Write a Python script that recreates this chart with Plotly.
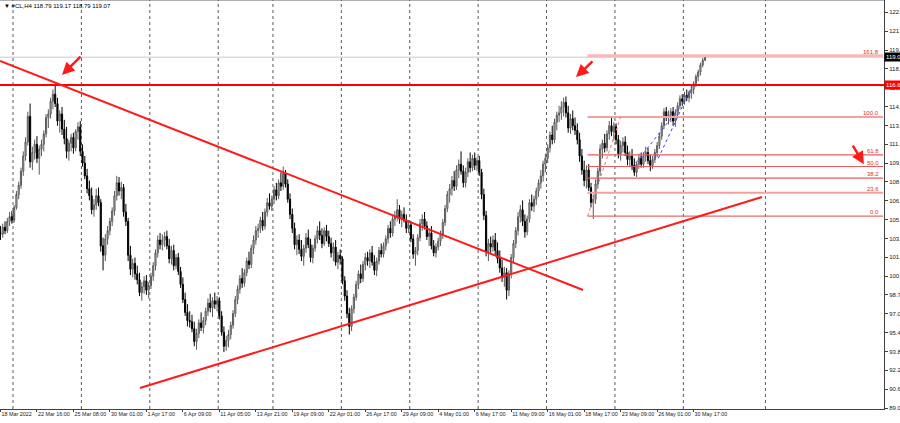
import plotly.graph_objects as go

# ---------------- data (H4 candles, 18 Mar 2022 .. 31 May 2022) ----------------
opens = [
    104.0,103.9,104.5,104.2,105.0,105.4, 105.1,106.2,107.3,108.1,109.3,110.6,
    111.8,114.0,110.1,110.9,111.6,110.4, 111.2,111.6,112.5,113.9,114.2,115.3,
    115.9,115.1,113.6,114.2,112.9,112.1, 111.0,111.7,112.2,111.3,112.7,113.1,
    111.0,110.0,108.9,107.8,107.2,106.0, 106.4,107.2,106.6,102.9,102.1,103.5,
    104.2,105.0,105.9,107.2,108.3,107.6, 107.9,105.8,105.0,102.1,100.9,101.4,
    100.5,100.0,98.9,99.4,99.9,99.1, 99.5,100.3,101.2,102.3,103.4,103.0,
    103.4,103.7,102.9,101.8,102.5,101.2, 101.9,100.7,99.6,98.3,97.2,96.5,
    96.4,95.8,94.7,95.4,96.3,95.9, 96.5,97.3,98.0,97.6,98.2,97.9,
    98.2,96.9,95.5,94.3,94.8,95.3, 96.1,97.1,98.3,99.2,100.1,99.7,
    100.6,101.6,101.3,102.7,103.4,104.2, 104.4,105.1,104.6,105.8,106.6,106.3,
    106.9,107.7,107.2,108.3,108.0,109.1, 108.2,106.9,105.6,104.4,103.0,103.4,
    102.6,102.0,102.7,103.6,103.0,101.9, 102.7,103.5,104.2,103.8,103.1,104.2,
    103.7,103.1,102.3,102.8,101.5,102.1, 101.8,99.9,98.6,97.1,96.0,97.5,
    98.5,99.6,100.5,100.1,101.3,101.9, 101.6,102.3,101.5,100.8,101.6,102.5,
    102.2,102.9,103.5,104.4,104.0,105.2, 105.4,106.0,105.2,105.6,105.1,104.4,
    104.7,103.5,102.2,102.5,103.6,104.8, 105.2,104.6,103.7,104.0,102.9,102.3,
    102.8,103.3,103.9,104.9,106.1,107.3, 107.8,108.5,108.0,109.4,109.9,109.3,
    108.3,109.2,110.1,109.6,110.4,109.8, 110.2,109.2,107.3,105.5,102.4,103.1,
    102.8,103.4,102.5,101.8,101.0,100.2, 100.6,99.1,100.5,101.9,103.1,104.2,
    105.4,106.0,105.0,104.1,105.2,106.6, 106.3,106.9,107.6,108.3,108.9,109.9,
    110.4,111.3,112.4,112.0,113.5,114.1, 114.3,114.8,115.2,114.3,113.0,113.8,
    113.2,112.8,112.0,110.6,109.4,108.5, 109.4,107.9,106.6,106.9,108.2,109.3,
    111.2,111.7,111.3,112.5,113.2,112.7, 113.1,112.0,110.8,111.5,111.8,110.9,
    110.3,110.6,109.8,109.2,109.9,110.4, 109.9,110.6,110.9,110.2,109.8,110.3,
    110.9,111.5,112.3,113.2,114.4,113.9, 114.1,114.4,113.6,114.3,114.9,115.5,
    115.3,115.8,115.6,116.0,116.3,116.8, 117.4,117.8,118.4,118.79,
]
highs = [
    104.6,104.8,105.0,105.3,105.8,105.9, 106.4,107.6,108.4,109.6,111.0,112.2,
    114.4,115.1,111.4,112.0,112.3,111.5, 112.0,112.8,114.2,114.6,115.6,116.3,
    116.8,115.6,114.5,114.8,113.7,113.1, 112.0,112.5,112.6,112.9,113.5,113.6,
    111.6,110.6,109.5,108.5,107.9,106.9, 107.8,107.9,106.9,103.6,103.9,104.6,
    105.3,106.2,107.6,108.9,108.8,108.4, 108.2,106.5,105.3,102.9,101.8,101.9,
    101.2,100.6,99.8,100.3,100.4,99.8, 100.6,101.5,102.6,103.8,104.0,103.9,
    104.1,104.2,103.5,102.9,103.0,102.2, 102.3,101.1,100.2,98.9,97.9,97.3,
    97.0,96.4,95.8,96.6,97.2,96.8, 97.6,98.4,98.8,98.5,98.9,98.6,
    98.5,97.3,96.0,95.2,95.7,96.4, 97.4,98.6,99.5,100.4,101.0,100.9,
    101.9,102.4,103.0,103.8,104.6,104.8, 105.4,105.8,106.1,107.0,107.4,107.2,
    108.0,108.3,108.6,109.2,109.7,109.4, 108.6,107.4,106.1,104.9,103.8,103.9,
    103.4,103.0,104.0,104.3,103.5,103.0, 103.8,104.6,105.0,104.4,104.5,104.7,
    104.2,103.6,103.2,103.4,102.4,102.6, 102.0,100.3,99.1,97.6,97.8,98.8,
    99.9,100.8,101.3,101.6,102.3,102.4, 102.6,102.9,102.1,101.9,102.8,103.1,
    103.2,103.8,104.7,105.0,105.5,105.9, 106.9,106.4,105.9,106.2,105.6,105.1,
    105.0,103.9,102.8,103.9,105.2,105.6, 105.8,105.0,104.4,104.6,103.4,103.1,
    103.6,104.2,105.2,106.4,107.6,108.2, 108.9,109.3,109.8,110.3,111.0,109.8,
    109.6,110.4,110.9,110.7,110.9,110.5, 110.6,109.5,107.8,105.9,103.5,103.7,
    103.8,104.0,103.2,102.5,101.7,101.1, 101.0,100.8,102.2,103.4,104.5,105.8,
    106.4,106.8,105.6,105.5,106.9,107.3, 107.2,107.9,108.6,109.4,110.2,110.8,
    111.6,112.7,113.2,113.8,114.4,114.9, 115.3,115.6,115.7,114.9,114.2,114.5,
    113.9,113.4,112.6,111.2,110.2,109.8, 109.9,108.3,107.3,108.6,109.6,111.6,
    112.0,112.5,112.8,113.6,113.9,113.5, 113.4,112.4,111.9,112.2,112.3,111.5,
    111.0,111.2,110.4,110.1,110.8,110.9, 110.9,111.4,111.3,110.7,110.6,111.2,
    111.8,112.6,113.5,114.7,114.8,114.5, 114.7,114.8,114.6,115.2,115.8,115.9,
    116.1,116.3,116.2,116.6,117.0,117.6, 118.0,118.6,119.0,119.17,
]
lows = [
    103.4,103.6,103.9,104.0,104.6,104.8, 104.9,106.0,106.9,107.8,108.9,110.2,
    111.5,109.6,109.4,110.3,110.0,109.0, 110.6,111.0,112.2,113.0,113.8,114.6,
    114.8,113.2,112.6,112.4,111.6,110.4, 110.2,111.0,110.8,111.0,112.0,110.6,
    109.7,108.6,107.4,106.8,105.6,105.4, 106.0,106.3,102.4,100.8,101.6,103.0,
    103.8,104.6,105.5,106.8,107.2,106.9, 105.4,104.6,101.6,100.4,100.2,100.0,
    99.6,98.6,98.2,98.8,98.7,98.4, 99.2,99.9,100.8,101.9,102.6,102.5,
    102.8,102.6,101.4,101.3,100.8,100.9, 100.4,99.3,98.0,96.9,96.0,95.9,
    95.5,94.3,94.0,95.0,95.6,95.4, 96.1,96.9,97.2,96.8,97.5,97.3,
    96.6,95.2,93.8,93.9,94.2,94.9, 95.8,96.8,97.9,98.8,99.3,99.4,
    100.3,100.9,101.0,102.2,103.0,103.6, 104.0,104.2,104.3,105.4,106.0,105.9,
    106.5,106.8,106.9,107.6,107.7,107.9, 106.6,105.2,104.0,102.6,102.1,102.2,
    101.6,101.2,102.3,102.7,101.5,101.4, 102.4,103.1,103.4,102.7,102.9,103.3,
    102.8,101.9,101.6,101.2,100.9,101.3, 99.6,98.2,96.7,95.3,95.6,97.1,
    98.2,99.2,99.7,99.8,100.8,101.2, 101.0,101.2,100.4,100.3,101.3,101.9,
    101.9,102.5,103.1,103.6,103.7,104.6, 105.0,104.8,104.5,104.9,104.0,104.0,
    103.2,101.8,101.2,102.1,103.3,104.2, 104.3,103.4,102.9,102.6,102.0,101.9,
    102.5,102.9,103.5,104.6,105.8,106.6, 107.2,107.6,107.7,108.7,109.0,107.9,
    107.9,108.8,109.2,109.3,109.4,109.3, 108.9,106.9,105.1,102.0,101.6,102.3,
    102.4,102.1,101.4,100.6,99.8,99.4, 98.3,98.6,100.1,101.5,102.7,103.8,
    104.9,104.6,103.6,103.8,104.9,105.9, 105.8,106.4,107.1,107.8,108.4,109.2,
    110.0,110.9,111.6,111.7,112.8,113.5, 113.7,114.0,113.9,112.6,112.5,112.8,
    112.4,111.6,110.1,109.0,108.0,107.8, 107.6,106.2,105.2,106.5,107.8,108.9,
    110.4,110.9,111.0,112.0,112.3,111.9, 111.6,110.4,110.2,110.9,110.6,109.8,
    109.7,109.4,108.9,108.8,109.5,109.6, 109.6,110.1,109.9,109.3,109.5,110.0,
    110.5,111.2,112.0,112.9,113.6,113.3, 113.5,113.2,113.1,114.0,114.6,114.9,
    115.0,115.3,115.2,115.5,115.9,116.5, 117.0,117.5,118.2,118.79,
]
closes = [
    103.9,104.5,104.2,105.0,105.4,105.1, 106.2,107.3,108.1,109.3,110.6,111.8,
    114.0,110.1,110.9,111.6,110.4,111.2, 111.6,112.5,113.9,114.2,115.3,115.9,
    115.1,113.6,114.2,112.9,112.1,111.0, 111.7,112.2,111.3,112.7,113.1,111.0,
    110.0,108.9,107.8,107.2,106.0,106.4, 107.2,106.6,102.9,102.1,103.5,104.2,
    105.0,105.9,107.2,108.3,107.6,107.9, 105.8,105.0,102.1,100.9,101.4,100.5,
    100.0,98.9,99.4,99.9,99.1,99.5, 100.3,101.2,102.3,103.4,103.0,103.4,
    103.7,102.9,101.8,102.5,101.2,101.9, 100.7,99.6,98.3,97.2,96.5,96.4,
    95.8,94.7,95.4,96.3,95.9,96.5, 97.3,98.0,97.6,98.2,97.9,98.2,
    96.9,95.5,94.3,94.8,95.3,96.1, 97.1,98.3,99.2,100.1,99.7,100.6,
    101.6,101.3,102.7,103.4,104.2,104.4, 105.1,104.6,105.8,106.6,106.3,106.9,
    107.7,107.2,108.3,108.0,109.1,108.2, 106.9,105.6,104.4,103.0,103.4,102.6,
    102.0,102.7,103.6,103.0,101.9,102.7, 103.5,104.2,103.8,103.1,104.2,103.7,
    103.1,102.3,102.8,101.5,102.1,101.8, 99.9,98.6,97.1,96.0,97.5,98.5,
    99.6,100.5,100.1,101.3,101.9,101.6, 102.3,101.5,100.8,101.6,102.5,102.2,
    102.9,103.5,104.4,104.0,105.2,105.4, 106.0,105.2,105.6,105.1,104.4,104.7,
    103.5,102.2,102.5,103.6,104.8,105.2, 104.6,103.7,104.0,102.9,102.3,102.8,
    103.3,103.9,104.9,106.1,107.3,107.8, 108.5,108.0,109.4,109.9,109.3,108.3,
    109.2,110.1,109.6,110.4,109.8,110.2, 109.2,107.3,105.5,102.4,103.1,102.8,
    103.4,102.5,101.8,101.0,100.2,100.6, 99.1,100.5,101.9,103.1,104.2,105.4,
    106.0,105.0,104.1,105.2,106.6,106.3, 106.9,107.6,108.3,108.9,109.9,110.4,
    111.3,112.4,112.0,113.5,114.1,114.3, 114.8,115.2,114.3,113.0,113.8,113.2,
    112.8,112.0,110.6,109.4,108.5,109.4, 107.9,106.6,106.9,108.2,109.3,111.2,
    111.7,111.3,112.5,113.2,112.7,113.1, 112.0,110.8,111.5,111.8,110.9,110.3,
    110.6,109.8,109.2,109.9,110.4,109.9, 110.6,110.9,110.2,109.8,110.3,110.9,
    111.5,112.3,113.2,114.4,113.9,114.1, 114.4,113.6,114.3,114.9,115.5,115.3,
    115.8,115.6,116.0,116.3,116.8,117.4, 117.8,118.4,118.79,119.07,
]

x_label_bars = [0, 16, 32, 48, 64, 80, 96, 112, 128, 144, 160, 176, 192, 208,
                224, 240, 256, 272, 288, 304]
x_labels = ["18 Mar 2022", "22 Mar 16:00", "25 Mar 08:00", "30 Mar 01:00",
            "1 Apr 17:00", "6 Apr 09:00", "11 Apr 05:00", "13 Apr 21:00",
            "19 Apr 09:00", "22 Apr 01:00", "26 Apr 17:00", "29 Apr 09:00",
            "4 May 01:00", "6 May 17:00", "11 May 09:00", "16 May 01:00",
            "18 May 17:00", "23 May 09:00", "26 May 01:00", "30 May 17:00"]
week_start_bars = [6, 36, 66, 96, 120, 150, 180, 210, 240, 270, 300, 336]

y_ticks = [89.00, 90.62, 92.23, 93.85, 95.46, 97.08, 98.70, 100.31, 101.93,
           103.54, 105.15, 106.77, 108.38, 109.99, 111.61, 113.22, 114.84,
           116.45, 118.06, 119.68, 121.29, 122.91]

title_text = "\u25bc #CL,H4 118.79 119.17 118.79 119.07"
bid_price = 119.07
resistance_price = 116.68

# trend lines (bar index, price)
down_x = [-0.2, 255.5]
down_y = [118.74, 99.12]
up_x = [61.2, 334.0]
up_y = [90.72, 107.09]

# Fibonacci retracement
fib_anchor_x = [257.5, 272.0]
fib_low, fib_high = 105.45, 113.95
fib_levels = [0.0, 23.6, 38.2, 50.0, 61.8, 100.0, 161.8]
fib_colors = ["#e86a6a", "#f2a0a0", "#e65c5c", "#e65c5c", "#e65c5c", "#f2a0a0", "#f6b8b8"]
fib_widths = [1.2, 2, 1.2, 1.2, 1.2, 2, 3]

# blue helper lines
blue1_x, blue1_y = [277.0, 298.0], [109.6, 114.8]
blue2_x, blue2_y = [288.5, 304.0], [110.4, 116.9]

# arrows: tip (bar, price), tail offset px
arrows = [(27.0, 117.54, 20, -20), (252.4, 117.37, 18, -17), (378.7, 109.9, -12, -20)]

X0, X1 = -0.2, 387.5
Y0, Y1 = 88.92, 123.97
FONT = "Liberation Sans, Arial, sans-serif"

fig = go.Figure()
fig.add_trace(go.Candlestick(
    x=list(range(len(closes))), open=opens, high=highs, low=lows, close=closes,
    increasing=dict(line=dict(color="#5a5a5a", width=1), fillcolor="#c8c8c8"),
    decreasing=dict(line=dict(color="#000000", width=1), fillcolor="#000000"),
    whiskerwidth=0, hoverinfo="skip", showlegend=False))

shapes = []
for b in week_start_bars:
    shapes.append(dict(type="line", xref="x", yref="paper", x0=b - 0.5, x1=b - 0.5,
                       y0=0, y1=1, line=dict(color="#5a5a5a", width=1, dash="dot"), layer="below"))
# bid line
shapes.append(dict(type="line", xref="paper", yref="y", x0=0, x1=1, y0=bid_price, y1=bid_price,
                   line=dict(color="#c8c8c8", width=1), layer="below"))
# fib levels
for lv, col, w in zip(fib_levels, fib_colors, fib_widths):
    p = fib_low + lv / 100.0 * (fib_high - fib_low)
    shapes.append(dict(type="line", xref="x", yref="y", x0=fib_anchor_x[0], x1=X1 - 0.4,
                       y0=p, y1=p, line=dict(color=col, width=w)))
shapes.append(dict(type="line", xref="x", yref="y", x0=fib_anchor_x[0], x1=fib_anchor_x[1],
                   y0=fib_low, y1=fib_high, line=dict(color="#f07070", width=1, dash="dot")))
# resistance
shapes.append(dict(type="line", xref="paper", yref="y", x0=0, x1=1, y0=resistance_price,
                   y1=resistance_price, line=dict(color="#ff0000", width=2)))
# trend lines
shapes.append(dict(type="line", xref="x", yref="y", x0=down_x[0], x1=down_x[1], y0=down_y[0],
                   y1=down_y[1], line=dict(color="#ff1a1a", width=2)))
shapes.append(dict(type="line", xref="x", yref="y", x0=up_x[0], x1=up_x[1], y0=up_y[0],
                   y1=up_y[1], line=dict(color="#ff1a1a", width=2)))
shapes.append(dict(type="line", xref="x", yref="y", x0=blue1_x[0], x1=blue1_x[1], y0=blue1_y[0],
                   y1=blue1_y[1], line=dict(color="#3040ff", width=1, dash="dot")))
shapes.append(dict(type="line", xref="x", yref="y", x0=blue2_x[0], x1=blue2_x[1], y0=blue2_y[0],
                   y1=blue2_y[1], line=dict(color="#3040ff", width=1, dash="dot")))
# top frame
shapes.append(dict(type="line", xref="paper", yref="paper", x0=0, x1=1, y0=1, y1=1,
                   line=dict(color="#606060", width=1)))

annotations = []
annotations.append(dict(xref="paper", yref="paper", x=0.002, y=0.998, xanchor="left", yanchor="top",
                        text=title_text, showarrow=False, font=dict(family=FONT, size=6, color="#000")))
for lv in fib_levels:
    p = fib_low + lv / 100.0 * (fib_high - fib_low)
    annotations.append(dict(xref="paper", yref="y", x=0.997, y=p, xanchor="right", yanchor="bottom",
                            text=f"{lv:.1f}", showarrow=False, yshift=-1,
                            font=dict(family=FONT, size=6, color="#e03030")))
annotations.append(dict(xref="paper", yref="y", x=1.0, y=bid_price, xanchor="left", yanchor="middle",
                        text=f"{bid_price:.2f}", showarrow=False, bgcolor="#000000", borderpad=1,
                        font=dict(family=FONT, size=6, color="#ffffff")))
annotations.append(dict(xref="paper", yref="y", x=1.0, y=resistance_price, xanchor="left",
                        yanchor="middle", text=f"{resistance_price:.2f}", showarrow=False,
                        bgcolor="#ff0000", borderpad=1, font=dict(family=FONT, size=6, color="#ffffff")))
for bx, py, ax, ay in arrows:
    annotations.append(dict(x=bx, y=py, xref="x", yref="y", ax=ax, ay=ay, showarrow=True,
                            arrowhead=2, arrowsize=1, arrowwidth=2.5, arrowcolor="#ff1a1a", text=""))

fig.update_layout(
    width=900, height=423,
    margin=dict(l=0, r=16, t=0, b=14),
    paper_bgcolor="#ffffff", plot_bgcolor="#ffffff",
    showlegend=False,
    shapes=shapes, annotations=annotations,
    xaxis=dict(range=[X0, X1], rangeslider=dict(visible=False), showgrid=False, zeroline=False,
               tickmode="array", tickvals=x_label_bars, ticktext=x_labels, tickangle=0,
               ticks="outside", ticklen=2, tickcolor="#404040",
               ticklabelposition="outside right",
               tickfont=dict(family=FONT, size=5.4, color="#202020"),
               showline=True, linecolor="#404040", linewidth=1, automargin=False, fixedrange=True),
    yaxis=dict(range=[Y0, Y1], side="right", showgrid=False, zeroline=False,
               tickmode="array", tickvals=y_ticks, ticktext=[f"{v:.2f}" for v in y_ticks],
               ticks="outside", ticklen=3, tickcolor="#404040",
               tickfont=dict(family=FONT, size=6, color="#202020"),
               showline=True, linecolor="#404040", linewidth=1, automargin=False, fixedrange=True),
)

fig.write_html("out.html", config={"staticPlot": True},
               post_script="document.body.style.margin='0px';document.body.style.overflow='hidden';")
